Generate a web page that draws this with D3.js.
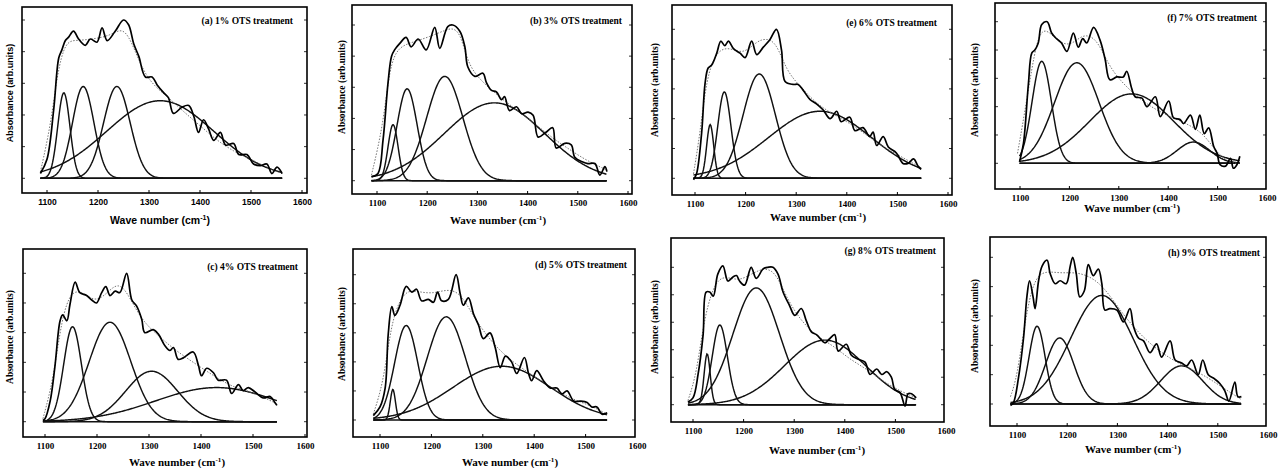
<!DOCTYPE html>
<html><head><meta charset="utf-8">
<script src="https://cdn.jsdelivr.net/npm/d3@7"></script>
<style>body{margin:0;background:#fff}</style></head>
<body>
<svg id="chart" width="1282" height="468"></svg>
<script>
// ---------- data ----------
const titles = ["(a) 1% OTS treatment","(b) 3% OTS treatment","(e) 6% OTS treatment","(f) 7% OTS treatment",
                "(c) 4% OTS treatment","(d) 5% OTS treatment","(g) 8% OTS treatment","(h) 9% OTS treatment"];
const xTicks = [1100,1200,1300,1400,1500,1600];
const xTitle = "Wave number (cm";
const yTitle = "Absorbance (arb.units)";

// measured spectra [wavenumber, absorbance (normalised)]
const specA = [[1087,0.03],[1100,0.12],[1113,0.43],[1123,0.76],[1129,0.81],[1136,0.87],[1142,0.89],[1152,0.93],[1162,0.88],[1175,0.84],[1185,0.88],[1198,0.86],[1208,0.95],[1218,0.87],[1234,0.93],[1250,1.0],[1260,0.97],[1270,0.85],[1280,0.77],[1293,0.64],[1306,0.64],[1316,0.59],[1329,0.54],[1338,0.51],[1348,0.41],[1365,0.45],[1378,0.46],[1388,0.39],[1397,0.29],[1407,0.37],[1417,0.31],[1427,0.24],[1440,0.29],[1450,0.21],[1466,0.22],[1476,0.15],[1492,0.15],[1505,0.09],[1518,0.08],[1531,0.09],[1541,0.03],[1551,0.07],[1561,0.03]];
const specB = [[1089,0.026],[1102,0.047],[1112,0.26],[1122,0.63],[1129,0.80],[1135,0.84],[1145,0.88],[1158,0.92],[1168,0.86],[1182,0.91],[1198,0.84],[1215,0.985],[1225,0.85],[1241,0.99],[1251,1.0],[1265,0.96],[1275,0.86],[1281,0.73],[1295,0.67],[1311,0.69],[1318,0.63],[1328,0.58],[1338,0.57],[1348,0.52],[1354,0.54],[1364,0.45],[1378,0.475],[1388,0.43],[1401,0.44],[1411,0.42],[1421,0.28],[1436,0.31],[1450,0.34],[1457,0.21],[1474,0.24],[1487,0.23],[1494,0.15],[1510,0.12],[1520,0.11],[1534,0.11],[1544,0.036],[1554,0.09],[1558,0.058]];
const specE = [[1097,-0.01],[1103,0.03],[1113,0.30],[1120,0.64],[1126,0.74],[1133,0.76],[1143,0.84],[1151,0.92],[1159,0.89],[1166,0.92],[1176,0.87],[1189,0.84],[1199,0.81],[1212,0.92],[1222,0.83],[1235,0.88],[1248,0.93],[1261,1.0],[1271,0.86],[1278,0.65],[1294,0.63],[1304,0.63],[1314,0.59],[1327,0.53],[1340,0.50],[1353,0.46],[1367,0.40],[1380,0.45],[1389,0.38],[1406,0.41],[1416,0.32],[1432,0.34],[1445,0.28],[1452,0.31],[1459,0.22],[1472,0.28],[1482,0.21],[1498,0.17],[1511,0.10],[1521,0.10],[1532,0.13],[1541,0.08],[1547,0.06]];
const specF = [[1099,0.01],[1107,0.14],[1117,0.56],[1124,0.78],[1130,0.80],[1137,0.85],[1144,0.98],[1155,1.0],[1164,0.92],[1174,0.88],[1184,0.85],[1195,0.79],[1208,0.92],[1218,0.82],[1227,0.88],[1235,0.85],[1249,0.96],[1262,0.87],[1272,0.74],[1282,0.59],[1296,0.61],[1309,0.61],[1316,0.65],[1326,0.53],[1333,0.47],[1347,0.46],[1357,0.40],[1374,0.47],[1384,0.33],[1401,0.44],[1411,0.32],[1424,0.31],[1431,0.28],[1445,0.34],[1455,0.24],[1464,0.34],[1473,0.21],[1482,0.25],[1492,0.12],[1499,0.07],[1505,-0.01],[1516,-0.02],[1526,0.035],[1532,-0.035],[1539,-0.01],[1545,0.05]];
const specC = [[1096,0.01],[1100,0.02],[1110,0.14],[1119,0.37],[1129,0.68],[1134,0.72],[1142,0.68],[1148,0.79],[1158,0.94],[1167,0.87],[1180,0.85],[1190,0.82],[1199,0.80],[1209,0.87],[1217,0.91],[1225,0.85],[1235,0.88],[1244,0.87],[1257,1.0],[1267,0.82],[1276,0.78],[1286,0.69],[1292,0.60],[1308,0.62],[1318,0.59],[1331,0.51],[1340,0.48],[1347,0.50],[1356,0.42],[1366,0.43],[1385,0.47],[1395,0.38],[1401,0.31],[1411,0.36],[1424,0.33],[1433,0.28],[1449,0.28],[1459,0.19],[1472,0.25],[1481,0.21],[1491,0.23],[1504,0.20],[1520,0.16],[1533,0.17],[1542,0.13],[1546,0.11]];
const specD = [[1087,0.03],[1100,0.09],[1110,0.22],[1116,0.59],[1123,0.78],[1129,0.72],[1139,0.79],[1151,0.92],[1162,0.88],[1171,0.90],[1181,0.82],[1194,0.83],[1204,0.81],[1212,0.88],[1220,0.82],[1233,0.83],[1248,1.0],[1256,0.87],[1262,0.79],[1272,0.84],[1282,0.73],[1292,0.65],[1301,0.56],[1314,0.60],[1324,0.50],[1334,0.36],[1344,0.44],[1356,0.40],[1366,0.32],[1381,0.43],[1389,0.32],[1395,0.27],[1405,0.34],[1418,0.27],[1431,0.22],[1444,0.22],[1454,0.18],[1464,0.20],[1477,0.13],[1490,0.13],[1503,0.12],[1512,0.09],[1522,0.09],[1532,0.04],[1542,0.05]];
const specG = [[1090,0.02],[1100,0.05],[1110,0.22],[1120,0.51],[1126,0.82],[1133,0.82],[1140,0.79],[1149,0.95],[1159,1.01],[1169,0.90],[1179,0.93],[1186,0.94],[1192,0.90],[1202,0.87],[1215,1.0],[1225,0.92],[1239,0.99],[1248,1.0],[1258,1.0],[1268,0.95],[1278,0.82],[1291,0.72],[1301,0.65],[1314,0.70],[1324,0.61],[1334,0.53],[1344,0.51],[1361,0.45],[1370,0.48],[1380,0.51],[1387,0.39],[1403,0.44],[1413,0.36],[1427,0.33],[1440,0.31],[1450,0.22],[1463,0.26],[1473,0.22],[1483,0.24],[1492,0.20],[1499,0.11],[1509,0.09],[1519,-0.01],[1525,0.08],[1532,0.08],[1541,0.05]];
const specH = [[1087,-0.01],[1093,0.01],[1103,0.18],[1113,0.45],[1120,0.74],[1125,0.84],[1132,0.73],[1136,0.65],[1143,0.84],[1150,0.94],[1160,0.98],[1166,0.89],[1176,0.82],[1186,0.84],[1198,0.82],[1206,0.94],[1211,1.0],[1218,0.89],[1225,0.73],[1234,0.77],[1242,0.95],[1252,0.875],[1262,0.92],[1269,0.82],[1275,0.64],[1285,0.65],[1299,0.64],[1312,0.56],[1325,0.65],[1332,0.53],[1342,0.45],[1352,0.43],[1365,0.35],[1378,0.41],[1388,0.32],[1405,0.43],[1415,0.30],[1428,0.28],[1438,0.26],[1448,0.30],[1461,0.20],[1470,0.30],[1481,0.20],[1494,0.17],[1504,0.14],[1514,0.09],[1522,0.02],[1534,0.15],[1540,0.05],[1547,0.05]];

// cumulative fitted envelopes (dotted)
const fitA = [[1087,0.04],[1107,0.33],[1120,0.66],[1136,0.87],[1159,0.87],[1191,0.88],[1224,0.9],[1250,0.96],[1270,0.83],[1296,0.62],[1335,0.52],[1368,0.42],[1401,0.33],[1433,0.24],[1466,0.17],[1499,0.12],[1531,0.07],[1561,0.03]];
const fitB = [[1089,0.036],[1112,0.35],[1125,0.73],[1142,0.86],[1172,0.89],[1205,0.925],[1238,0.97],[1251,0.98],[1265,0.95],[1278,0.8],[1291,0.70],[1318,0.61],[1351,0.52],[1384,0.44],[1417,0.36],[1451,0.27],[1484,0.2],[1517,0.13],[1557,0.07]];
const fitE = [[1097,0.03],[1110,0.30],[1123,0.68],[1143,0.86],[1169,0.88],[1195,0.83],[1222,0.92],[1241,0.94],[1261,0.91],[1281,0.72],[1307,0.62],[1340,0.50],[1373,0.43],[1406,0.37],[1439,0.29],[1472,0.21],[1505,0.15],[1547,0.07]];
const fitF = [[1095,0.07],[1114,0.45],[1134,0.89],[1151,0.96],[1174,0.87],[1201,0.82],[1228,0.92],[1255,0.88],[1276,0.72],[1296,0.61],[1330,0.49],[1364,0.40],[1397,0.34],[1438,0.28],[1472,0.21],[1499,0.07],[1526,0.0],[1545,0.0]];
const fitC = [[1096,0.02],[1116,0.28],[1132,0.70],[1151,0.89],[1174,0.87],[1199,0.80],[1225,0.89],[1241,0.93],[1257,0.88],[1283,0.70],[1308,0.61],[1347,0.49],[1385,0.40],[1424,0.31],[1462,0.23],[1500,0.20],[1546,0.12]];
const fitD = [[1087,0.04],[1106,0.25],[1119,0.59],[1132,0.78],[1152,0.90],[1178,0.88],[1204,0.87],[1230,0.90],[1256,0.88],[1282,0.71],[1314,0.55],[1347,0.43],[1379,0.35],[1412,0.27],[1444,0.20],[1477,0.14],[1509,0.10],[1542,0.04]];
const fitG = [[1090,0.03],[1107,0.22],[1123,0.66],[1146,0.92],[1169,0.93],[1192,0.90],[1219,0.96],[1245,1.0],[1265,0.95],[1285,0.78],[1311,0.62],[1344,0.50],[1377,0.43],[1410,0.33],[1443,0.26],[1476,0.17],[1509,0.10],[1541,0.05]];
const fitH = [[1087,0.05],[1100,0.18],[1117,0.59],[1133,0.84],[1153,0.91],[1186,0.89],[1219,0.90],[1252,0.86],[1279,0.77],[1305,0.64],[1338,0.50],[1372,0.39],[1405,0.31],[1438,0.25],[1471,0.20],[1504,0.125],[1547,0.03]];

// Gaussian peak-fit components: [centre, height, sigma]
const peaksA = [[1133,0.54,12],[1171,0.58,21],[1237,0.58,26],[1322,0.49,105]];
const peaksB = [[1132,0.36,10],[1160,0.59,20],[1235,0.67,36],[1334,0.50,100]];
const peaksE = [[1130,0.36,7],[1158,0.58,13],[1227,0.70,32],[1347,0.45,102]];
const peaksF = [[1144,0.72,19.5],[1215,0.71,45],[1326,0.49,85],[1451,0.15,33]];
const peaksC = [[1153,0.64,17],[1225,0.67,40],[1305,0.34,50],[1430,0.23,118]];
const peaksD = [[1125,0.21,5],[1151,0.65,22.5],[1229,0.71,37],[1337,0.37,95]];
const peaksG = [[1128,0.37,6],[1153,0.58,15],[1225,0.85,46],[1361,0.47,80]];
const peaksH = [[1140,0.53,16],[1185,0.45,28],[1269,0.74,62],[1428,0.26,42]];

const spectra = [specA,specB,specE,specF,specC,specD,specG,specH];
const fits = [fitA,fitB,fitE,fitF,fitC,fitD,fitG,fitH];
const peaks = [peaksA,peaksB,peaksE,peaksF,peaksC,peaksD,peaksG,peaksH];

// ---------- layout (pixels) ----------
const layout = [
 {L:22,T:7,R:307,B:193,x1:47,x2:302,yb:178.3,yt:20,xtx:160,xty:220,ytx:10,yty:93,tx:293,ty:20,sans:true},
 {L:352,T:5,R:632,B:194,x1:377,x2:628,yb:180.7,yt:25,xtx:498,xty:220,ytx:342,yty:87,tx:622,ty:20},
 {L:672,T:5,R:952,B:195,x1:695,x2:948,yb:178.3,yt:29.3,xtx:818,xty:217,ytx:655,yty:90,tx:937,ty:22},
 {L:995,T:3,R:1266,B:189,x1:1020,x2:1267,yb:163.3,yt:21.7,xtx:1132,xty:208,ytx:975,yty:90,tx:1257,ty:17},
 {L:23,T:249,R:307,B:437,x1:45,x2:305,yb:421.7,yt:273.3,xtx:177,xty:462,ytx:10,yty:337,tx:298,ty:266},
 {L:353,T:249,R:635,B:437,x1:380,x2:637,yb:420,yt:274.7,xtx:510,xty:462,ytx:342,yty:334,tx:627,ty:264},
 {L:671,T:238,R:944,B:422,x1:693,x2:946,yb:404.7,yt:267.3,xtx:817,xty:450,ytx:655,yty:327,tx:936,ty:250},
 {L:990,T:237,R:1266,B:426,x1:1017,x2:1268,yb:404,yt:257.3,xtx:1133,xty:449,ytx:975,yty:326,tx:1260,ty:252}
];

const svg = d3.select("#chart");
const SERIF = "'Liberation Serif','Times New Roman',serif";
const SANS = "'Liberation Sans',Arial,sans-serif";

layout.forEach((P, i) => {
  const g = svg.append("g");
  const x = d3.scaleLinear().domain([1100,1600]).range([P.x1,P.x2]);
  const y = d3.scaleLinear().domain([0,1]).range([P.yb,P.yt]);
  const font = P.sans ? SANS : SERIF;
  const spec = spectra[i], fit = fits[i];
  const x0 = spec[0][0], x1 = spec[spec.length-1][0];

  // frame
  g.append("rect").attr("x",P.L).attr("y",P.T).attr("width",P.R-P.L).attr("height",P.B-P.T)
    .attr("fill","none").attr("stroke","#000").attr("stroke-width",1.6);

  // bottom axis via d3.axis
  const ax = d3.axisBottom(x).tickValues(xTicks).tickSize(0).tickPadding(0).tickFormat(d3.format("d"));
  const axG = g.append("g").attr("transform",`translate(0,${P.B})`).call(ax);
  axG.select(".domain").remove();
  axG.selectAll("text").attr("dy",null).attr("y",12)
     .style("font-family",font).style("font-size", P.sans ? "8.5px" : "9px").style("font-weight","bold").attr("fill","#000");
  // inward ticks
  g.selectAll(".tk").data(xTicks.filter(v => x(v) < P.R - 1)).enter().append("line")
    .attr("x1",d=>x(d)).attr("x2",d=>x(d)).attr("y1",P.B).attr("y2",P.B-3)
    .attr("stroke","#000").attr("stroke-width",1);
  const yT = [0,0.2,0.4,0.6,0.8,1.0].filter(v => y(v) > P.T+2 && y(v) < P.B-2);
  g.selectAll(".ytk").data(yT).enter().append("line")
    .attr("x1",P.L).attr("x2",P.L+3).attr("y1",d=>y(d)).attr("y2",d=>y(d))
    .attr("stroke","#000").attr("stroke-width",0.8);
  g.selectAll(".ytk2").data(yT).enter().append("line")
    .attr("x1",P.R).attr("x2",P.R-3).attr("y1",d=>y(d)).attr("y2",d=>y(d))
    .attr("stroke","#000").attr("stroke-width",0.8);

  // baseline
  g.append("line").attr("x1",x(x0)).attr("x2",x(x1)).attr("y1",y(0)).attr("y2",y(0))
    .attr("stroke","#111").attr("stroke-width",1.4);

  // gaussian components
  const xs = d3.range(x0, x1 + 0.01, 1.5);
  const line = d3.line().x(d=>x(d[0])).y(d=>y(d[1]));
  peaks[i].forEach(p => {
    const pts = xs.map(v => [v, p[1]*Math.exp(-((v-p[0])**2)/(2*p[2]*p[2]))]);
    g.append("path").attr("d", line(pts)).attr("fill","none")
      .attr("stroke","#111").attr("stroke-width",1.45);
  });

  // fitted envelope (dotted)
  g.append("path").attr("d", d3.line().x(d=>x(d[0])).y(d=>y(d[1])).curve(d3.curveBasis)(fit))
    .attr("fill","none").attr("stroke","#666").attr("stroke-width",0.9).attr("stroke-dasharray","1.5,1.5");

  // measured spectrum
  g.append("path").attr("d", d3.line().x(d=>x(d[0])).y(d=>y(d[1])).curve(d3.curveCatmullRom.alpha(0.5))(spec))
    .attr("fill","none").attr("stroke","#000").attr("stroke-width",1.7).attr("stroke-linejoin","round");

  // panel title
  g.append("text").attr("x",P.tx).attr("y",P.ty+3.5).attr("text-anchor","end")
    .style("font-family",SERIF).style("font-size","9.5px").style("font-weight","bold").text(titles[i]);

  // x title
  const xt = g.append("text").attr("x",P.xtx).attr("y",P.xty+4).attr("text-anchor","middle")
    .style("font-family",font).style("font-size", P.sans ? "10.5px" : "11px").style("font-weight","bold");
  xt.append("tspan").text(xTitle);
  xt.append("tspan").attr("dy",-4).style("font-size","7px").text("-1");
  xt.append("tspan").attr("dy",4).text(")");

  // y title
  g.append("text").attr("transform",`translate(${P.ytx+3},${P.yty}) rotate(-90)`).attr("text-anchor","middle")
    .style("font-family",font).style("font-size", P.sans ? "9px" : "9.5px").style("font-weight","bold").text(yTitle);
});
</script>
</body></html>
